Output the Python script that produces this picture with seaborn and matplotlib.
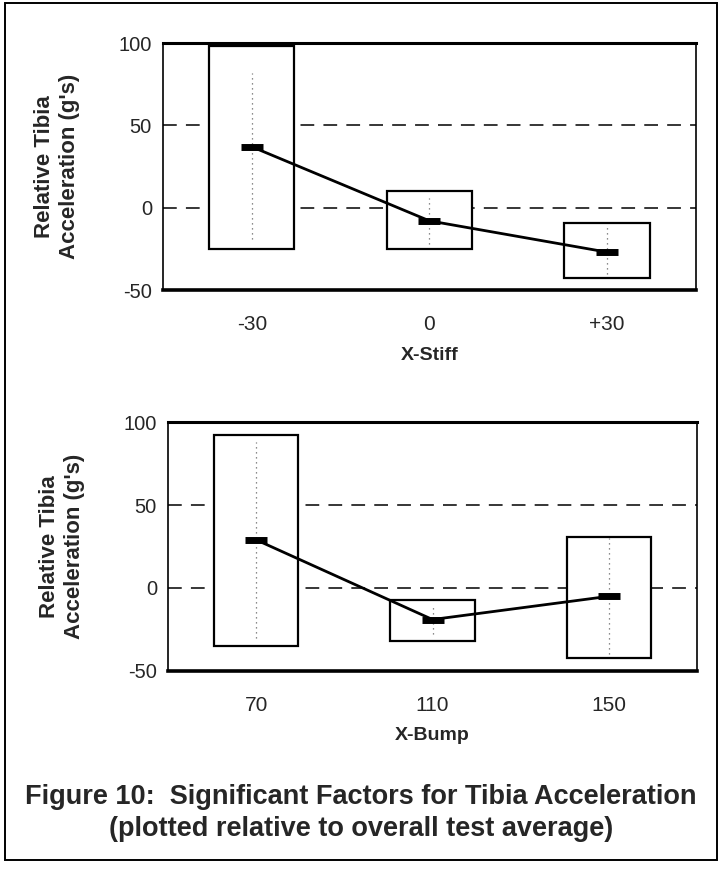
import matplotlib
matplotlib.use("Agg")
import matplotlib.pyplot as plt
import matplotlib.patches as patches
import seaborn as sns
import pandas as pd

# values (g's relative to overall test average)
stiff_levels = ['-30', '0', '+30']
stiff_low = [-25, -25, -43]
stiff_high = [98, 10, -9]
stiff_mean = [37, -8, -27]
stiff_wlo = [-19, -22, -40]
stiff_whi = [82, 6, -12]

bump_levels = ['70', '110', '150']
bump_low = [-35, -32, -42]
bump_high = [92, -7, 31]
bump_mean = [29, -19, -5]
bump_wlo = [-30, -28, -40]
bump_whi = [88, -10, 30]

ytick_vals = [-50, 0, 50, 100]
ylab = "Relative Tibia\nAcceleration (g's)"
caption = "Figure 10:  Significant Factors for Tibia Acceleration\n(plotted relative to overall test average)"

sns.set_style("white")
plt.rcParams['font.family'] = ['Liberation Sans', 'DejaVu Sans']

fig = plt.figure(figsize=(7.22, 8.73), dpi=100)
ax1 = fig.add_axes([0.2258, 0.6678, 0.738, 0.2829])
ax2 = fig.add_axes([0.2327, 0.2314, 0.7327, 0.2852])


def draw_panel(ax, levels, low, high, mean, wlo, whi, xlabel):
    df = pd.DataFrame({'level': levels, 'low': low, 'high': high, 'mean': mean,
                       'wlo': wlo, 'whi': whi, 'pos': range(len(levels))})
    # dashed reference lines
    for v in [0, 50]:
        ax.axhline(v, color='black', lw=1.1, ls=(0, (9, 6)), zorder=0)
    # boxes from low to high
    ax.bar(df['pos'], df['high'] - df['low'], bottom=df['low'], width=0.48,
           facecolor='white', edgecolor='black', linewidth=1.6, zorder=2)
    # dotted whiskers inside the boxes
    ax.vlines(df['pos'], df['wlo'], df['whi'], colors='#666666', lw=0.9,
              linestyles=(0, (1, 3)), zorder=3)
    # means joined by a line
    sns.lineplot(data=df, x='pos', y='mean', ax=ax, color='black', lw=2,
                 marker='_', markersize=16, markeredgewidth=5,
                 markeredgecolor='black', zorder=4)
    ax.set_xlim(-0.5, 2.5)
    ax.set_ylim(-50, 100)
    ax.set_yticks(ytick_vals)
    ax.set_yticklabels([str(v) for v in ytick_vals], fontsize=14.5)
    ax.set_xticks([0.5, 1.5])
    ax.set_xticklabels([])
    ax.set_xticks([0, 1, 2], minor=True)
    ax.set_xticklabels(levels, minor=True, fontsize=15)
    ax.tick_params(axis='x', which='major', direction='inout', length=10, width=1.5)
    ax.tick_params(axis='x', which='minor', length=0, pad=18)
    ax.tick_params(axis='y', direction='out', length=5, width=1.2, pad=3)
    ax.set_xlabel(xlabel, fontsize=14, fontweight='bold', labelpad=9)
    ax.set_ylabel(ylab, fontsize=16, fontweight='bold', labelpad=28)
    ax.grid(False)
    for side, w in [('top', 2.2), ('bottom', 2.6), ('left', 1.2), ('right', 1.2)]:
        ax.spines[side].set_visible(True)
        ax.spines[side].set_color('black')
        ax.spines[side].set_linewidth(w)


draw_panel(ax1, stiff_levels, stiff_low, stiff_high, stiff_mean, stiff_wlo, stiff_whi, 'X-Stiff')
draw_panel(ax2, bump_levels, bump_low, bump_high, bump_mean, bump_wlo, bump_whi, 'X-Bump')

fig.text(0.5, 0.069, caption, ha='center', va='center', fontsize=19.5,
         fontweight='bold', linespacing=1.3)

# outer frame around the whole figure
fig.patches.append(patches.Rectangle((0.007, 0.015), 0.986, 0.981, transform=fig.transFigure,
                                     fill=False, edgecolor='black', lw=1.4))

fig.savefig('out.png', dpi=100)
